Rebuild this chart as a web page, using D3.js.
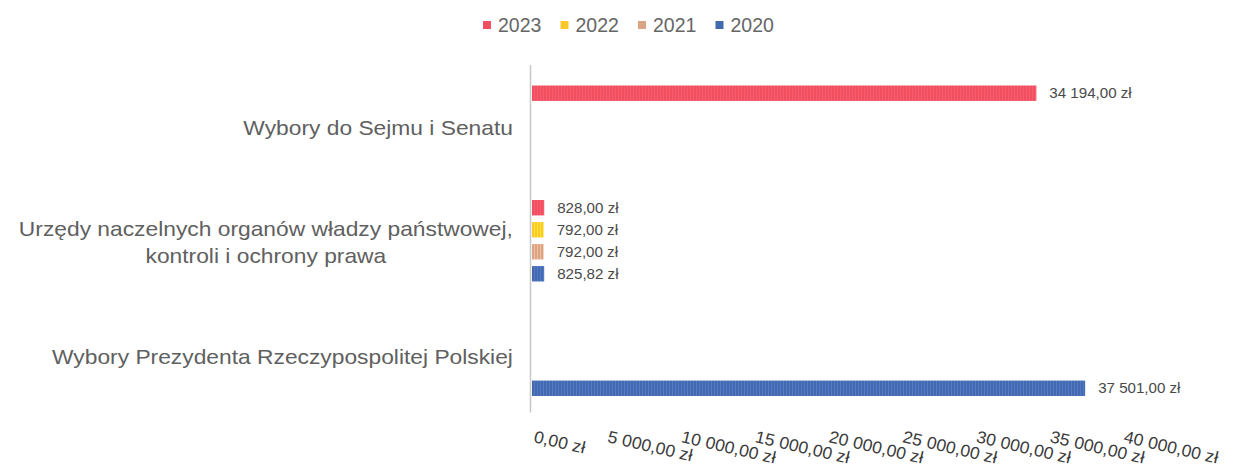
<!DOCTYPE html>
<html>
<head>
<meta charset="utf-8">
<script src="https://cdn.jsdelivr.net/npm/d3@7"></script>
<style>
  html, body { margin: 0; padding: 0; background: #ffffff; }
  svg { display: block; }
  text { font-family: "Liberation Sans", Arial, sans-serif; }
</style>
</head>
<body>
<svg id="chart" width="1233" height="472"></svg>
<script>
// ---------- data ----------
const categories = [
  "Wybory do Sejmu i Senatu",
  "Urzędy naczelnych organów władzy państwowej, kontroli i ochrony prawa",
  "Wybory Prezydenta Rzeczypospolitej Polskiej"
];
const categoryLines = [
  ["Wybory do Sejmu i Senatu"],
  ["Urzędy naczelnych organów władzy państwowej,", "kontroli i ochrony prawa"],
  ["Wybory Prezydenta Rzeczypospolitej Polskiej"]
];
const seriesNames = ["2023", "2022", "2021", "2020"];
const values2023 = [34194, 828, null];
const values2022 = [null, 792, null];
const values2021 = [null, 792, null];
const values2020 = [null, 825.82, 37501];
const seriesColors = ["#ef4f5e", "#fcc72a", "#dca487", "#4569ad"];
const xTickValues = [0, 5000, 10000, 15000, 20000, 25000, 30000, 35000, 40000];

const seriesValues = [values2023, values2022, values2021, values2020];

// ---------- formatting ----------
const pl = d3.formatLocale({ decimal: ",", thousands: " ", grouping: [3], currency: ["", " zł"] });
const fmt = v => pl.format(",.2f")(v) + " zł";

// ---------- layout ----------
const svg = d3.select("#chart");
const x = d3.scaleLinear().domain([0, 40000]).range([532, 1122]);
const y0 = d3.scaleBand().domain(categories).range([69, 412.5]).paddingInner(0).paddingOuter(0);
const y1 = d3.scaleBand().domain(seriesNames).range([0, y0.bandwidth()]).paddingInner(0.3).paddingOuter(0.75);

// patterns (scan-like vertical stripes)
const defs = svg.append("defs");
seriesColors.forEach((c, i) => {
  const p = defs.append("pattern")
    .attr("id", "pat" + i).attr("patternUnits", "userSpaceOnUse")
    .attr("width", 3).attr("height", 20);
  p.append("rect").attr("width", 3).attr("height", 20).attr("fill", c);
  p.append("rect").attr("x", 0).attr("width", 1).attr("height", 20)
    .attr("fill", d3.color(c).brighter(0.7)).attr("opacity", 0.6);
});

function stretchedText(parent, tx, ty, str, sx, anchor, size, color, rot) {
  const g = parent.append("g")
    .attr("transform", `translate(${tx},${ty})` + (rot ? ` rotate(${rot})` : "") + ` scale(${sx},1)`);
  g.append("text").attr("x", 0).attr("y", 0)
    .attr("text-anchor", anchor)
    .attr("font-size", size)
    .attr("fill", color)
    .text(str);
  return g;
}

// ---------- legend ----------
const legend = svg.append("g");
const legendStart = 483, legendStep = 77.5;
seriesNames.forEach((s, i) => {
  const lx = legendStart + i * legendStep;
  legend.append("rect").attr("x", lx).attr("y", 21).attr("width", 8).attr("height", 8)
    .attr("fill", seriesColors[i]);
  legend.append("text").attr("x", lx + 15).attr("y", 32)
    .attr("font-size", 19.5).attr("fill", "#666666").text(s);
});

// ---------- vertical axis line ----------
svg.append("line")
  .attr("x1", x(0) - 1.5).attr("x2", x(0) - 1.5)
  .attr("y1", y0.range()[0] - 4).attr("y2", y0.range()[1])
  .attr("stroke", "#c8c8c8").attr("stroke-width", 1.5);

// ---------- bars ----------
const barsG = svg.append("g");
categories.forEach((cat, ci) => {
  seriesNames.forEach((s, si) => {
    const v = seriesValues[si][ci];
    if (v === null || v === undefined) return;
    const by = y0(cat) + y1(s);
    barsG.append("rect")
      .attr("x", x(0)).attr("y", by)
      .attr("width", x(v) - x(0)).attr("height", y1.bandwidth())
      .attr("fill", `url(#pat${si})`);
    stretchedText(barsG, x(v) + 13, by + y1.bandwidth() / 2 + 5, fmt(v), 1.08, "start", 14, "#4a4a4a");
  });
});

// ---------- category labels ----------
const catG = svg.append("g");
const catSx = 1.14, catSize = 20, lineH = 27;
categories.forEach((cat, ci) => {
  const lines = categoryLines[ci];
  const cy = y0(cat) + y0.bandwidth() / 2;
  const right = x(0) - 19;
  const widths = lines.map(l => {
    const t = svg.append("text").attr("font-size", catSize).text(l);
    const w = t.node().getComputedTextLength() * catSx;
    t.remove();
    return w;
  });
  const maxW = d3.max(widths);
  const center = right - maxW / 2;
  const firstBase = cy - (lines.length - 1) * lineH / 2 + 9;
  lines.forEach((l, li) => {
    stretchedText(catG, center, firstBase + li * lineH, l, catSx, "middle", catSize, "#606060");
  });
});

// ---------- x tick labels (rotated) ----------
const tickG = svg.append("g");
xTickValues.forEach(t => {
  stretchedText(tickG, x(t) + 1, 442, fmt(t), 1.04, "start", 17, "#3a3a3a", 13);
});
</script>
</body>
</html>
